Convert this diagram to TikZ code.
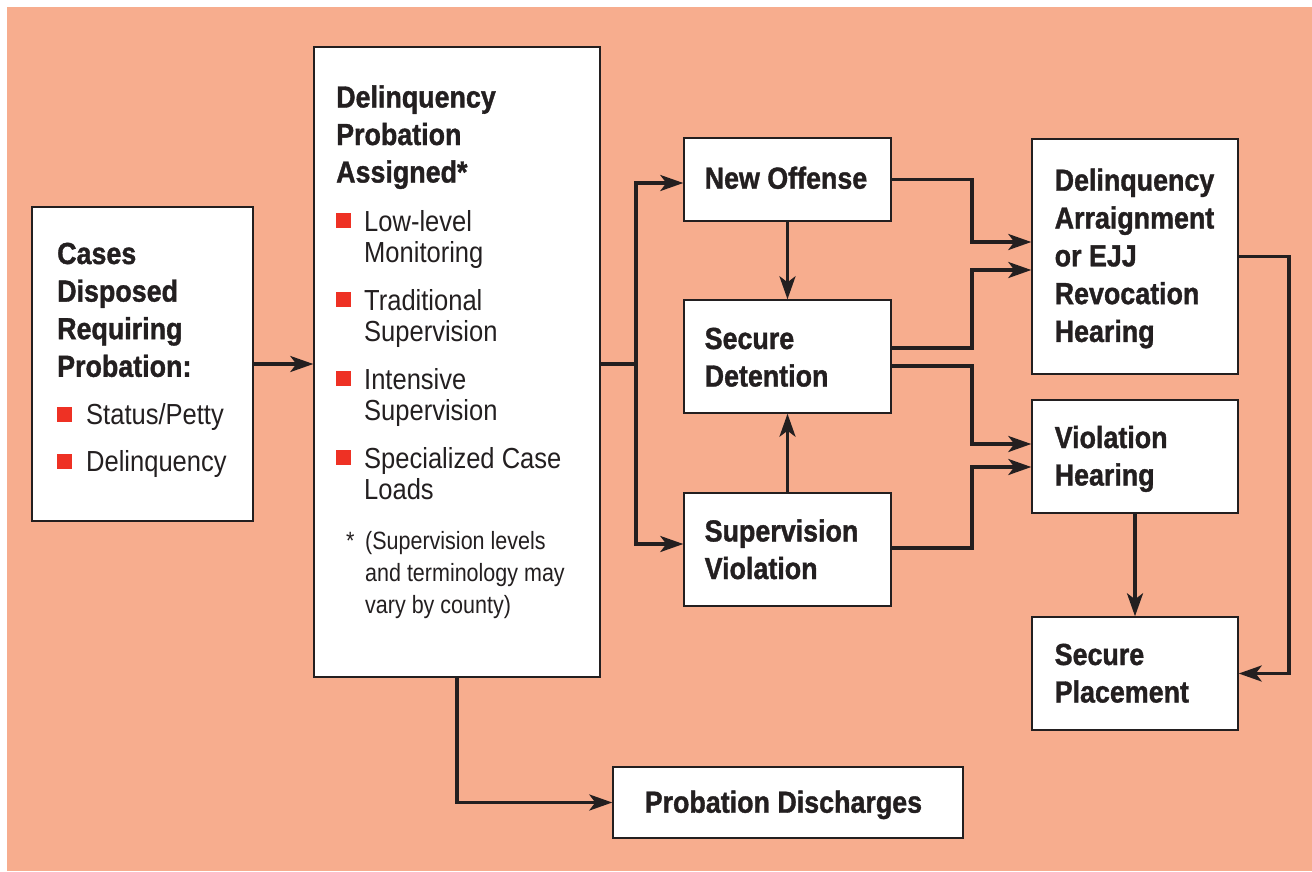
\documentclass[tikz,border=0pt]{standalone}
\usepackage{fontspec}
\setmainfont{Liberation Sans}[FakeStretch=0.88, BoldFeatures={FakeBold=1.2}]
\newfontfamily\notefont{Liberation Sans}[FakeStretch=0.86]
\usetikzlibrary{arrows.meta}
\definecolor{bg}{HTML}{F7AD8E}
\definecolor{ink}{HTML}{231F20}
\definecolor{mark}{HTML}{EE3124}

\begin{document}
\begin{tikzpicture}[x=1pt,y=-1pt,
  box/.style={draw=ink, line width=1.4pt, fill=white, rectangle, inner sep=0pt},
  head/.style={font=\fontsize{30.5}{37.5}\selectfont\bfseries, text=ink, anchor=base west, inner sep=0pt},
  item/.style={font=\fontsize{29}{31}\selectfont, text=ink, anchor=base west, inner sep=0pt},
  note/.style={font=\notefont\fontsize{25}{32}\selectfont, text=ink, anchor=base west, inner sep=0pt},
  bullet/.style={fill=mark, rectangle, minimum size=15pt, inner sep=0pt},
  link/.style={draw=ink, line width=3.3pt},
  arr/.style={link, -{Stealth[length=23pt,width=16pt,inset=6pt]}},
]
\useasboundingbox (0,0) rectangle (1312,871);
\fill[bg] (7,7) rectangle (1312,871);

% boxes
\node[box, minimum width=221pt, minimum height=314pt] (cases)    at (142.5,364)   {};
\node[box, minimum width=286pt, minimum height=630pt] (prob)     at (457,362)     {};
\node[box, minimum width=207pt, minimum height=83pt]  (newoff)   at (787.5,179.5) {};
\node[box, minimum width=207pt, minimum height=113pt] (secdet)   at (787.5,356.5) {};
\node[box, minimum width=207pt, minimum height=113pt] (supviol)  at (787.5,549.5) {};
\node[box, minimum width=206pt, minimum height=235pt] (arraign)  at (1135,256.5)  {};
\node[box, minimum width=206pt, minimum height=113pt] (viol)     at (1135,456.5)  {};
\node[box, minimum width=206pt, minimum height=113pt] (secplace) at (1135,673.5)  {};
\node[box, minimum width=350pt, minimum height=71pt]  (disch)    at (788,802.5)   {};

% box texts
\foreach \t [count=\i] in {Cases,Disposed,Requiring,Probation:}
  \node[head] (cases-t\i) at (57,{264+37.6*(\i-1)}) {\t};
\node[bullet] (cases-b1) at (64,414.5) {};
\node[item] (cases-i1) at (86,424) {Status/Petty};
\node[bullet] (cases-b2) at (64,461.5) {};
\node[item] (cases-i2) at (86,471.5) {Delinquency};

\foreach \t [count=\i] in {Delinquency,Probation,Assigned*}
  \node[head] (prob-t\i) at (336,{107.5+37.5*(\i-1)}) {\t};
\foreach \a/\b [count=\i] in {Low-level/Monitoring,Traditional/Supervision,Intensive/Supervision,Specialized Case/Loads} {
  \node[bullet] (prob-b\i) at (343,{220.5+79*(\i-1)}) {};
  \node[item] (prob-i\i a) at (364,{231+79*(\i-1)}) {\a};
  \node[item] (prob-i\i b) at (364,{262+79*(\i-1)}) {\b};
}
\node[note] (star) at (346,549) {*};
\node[note] (note-1) at (365,549) {(Supervision levels};
\node[note] (note-2) at (365,581) {and terminology may};
\node[note] (note-3) at (365,613) {vary by county)};

\node[head] (newoff-t) at (704.5,188.7) {New Offense};
\node[head] (secdet-t1) at (704.5,349) {Secure};
\node[head] (secdet-t2) at (704.5,386.5) {Detention};
\node[head] (supviol-t1) at (704.5,541.5) {Supervision};
\node[head] (supviol-t2) at (704.5,579) {Violation};
\foreach \t [count=\i] in {Delinquency,Arraignment,or EJJ,Revocation,Hearing}
  \node[head] (arraign-t\i) at (1054.5,{190.7+37.8*(\i-1)}) {\t};
\node[head] (viol-t1) at (1054.5,448) {Violation};
\node[head] (viol-t2) at (1054.5,485.5) {Hearing};
\node[head] (secplace-t1) at (1054.5,665) {Secure};
\node[head] (secplace-t2) at (1054.5,702.5) {Placement};
\node[head] (disch-t) at (644.5,812.7) {Probation Discharges};

% routing points
\coordinate (split) at (636,364);
\coordinate (jr) at (972,0);
\coordinate (rr) at (1289,0);
\coordinate (o1) at ([yshift=8.5pt]secdet.east);
\coordinate (o2) at ([yshift=-9.5pt]secdet.east);
\coordinate (o3) at ([yshift=1.5pt]supviol.east);
\coordinate (i0) at ([yshift=14.5pt]arraign.west);
\coordinate (i1) at ([yshift=-13.5pt]arraign.west);
\coordinate (i2) at ([yshift=12.5pt]viol.west);
\coordinate (i3) at ([yshift=-10.5pt]viol.west);

% connectors
\draw[arr] (cases.east) -- (cases.east -| prob.west);
\draw[link] (prob.east |- split) -- (split);
\draw[arr] (split) |- ([yshift=-3.5pt]newoff.west);
\draw[arr] (split) |- ([yshift=5.5pt]supviol.west);
\draw[arr] (newoff.south) -- (secdet.north);
\draw[arr] (supviol.north) -- (secdet.south);
\draw[arr] (newoff.east) -- (newoff.east -| jr) |- (i0);
\draw[arr] (o1) -- (o1 -| jr) |- (i1);
\draw[arr] (o2) -- (o2 -| jr) |- (i2);
\draw[arr] (o3) -- (o3 -| jr) |- (i3);
\draw[arr] (viol.south -| secplace.north) -- (secplace.north);
\draw[arr] (arraign.east) -- (arraign.east -| rr) |- (secplace.east);
\draw[arr] (prob.south) |- (disch.west);
\end{tikzpicture}
\end{document}
